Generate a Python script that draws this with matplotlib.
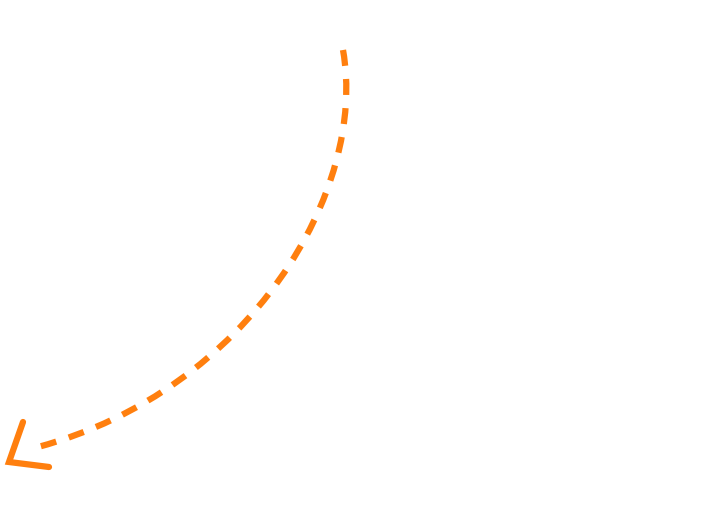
import matplotlib
matplotlib.use("Agg")
import matplotlib.pyplot as plt
from matplotlib.path import Path
from matplotlib.patches import PathPatch

# curve control points (pixel space, y down)
curve_x = [343, 368, 250, 38]
curve_y = [50, 190, 390, 447]
# arrow head: arm, tip, arm
head_x = [23, 9, 49]
head_y = [422, 462, 467]

plt.rcParams['lines.scale_dashes'] = False
fig = plt.figure(figsize=(7.01, 5.08), dpi=100)
ax = fig.add_axes([0, 0, 1, 1])
ax.set_xlim(0, 701)
ax.set_ylim(508, 0)
ax.axis("off")

verts = list(zip(curve_x, curve_y))
path = Path(verts, [Path.MOVETO, Path.CURVE4, Path.CURVE4, Path.CURVE4])
ax.add_patch(PathPatch(path, facecolor="none", edgecolor="#ff7f0e", lw=4.5,
                       linestyle=(0, (11.5, 9.5)), capstyle="butt"))
ax.plot(head_x, head_y, color="#ff7f0e", lw=4.5, solid_capstyle="round",
        solid_joinstyle="miter")

fig.savefig("out.png", dpi=100)
